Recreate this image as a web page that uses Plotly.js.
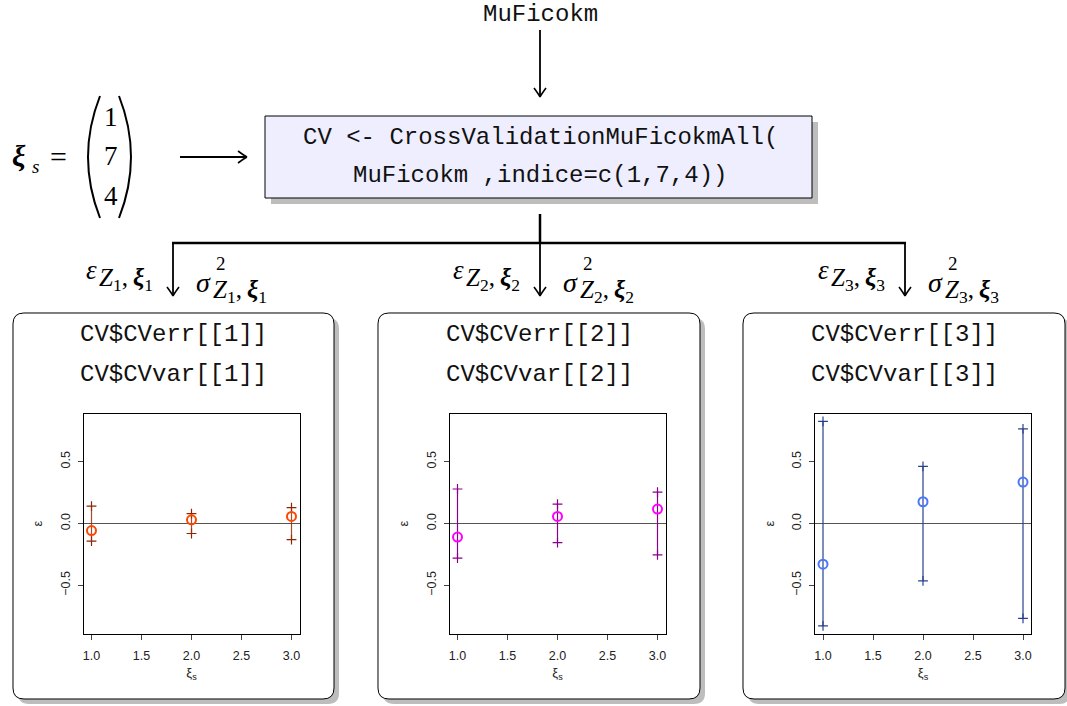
<!DOCTYPE html>
<html>
<head>
<meta charset="utf-8">
<script src="https://cdn.plot.ly/plotly-3.0.1.min.js"></script>
<style>html,body{margin:0;padding:0;background:#fff;}#chart{width:1067px;height:706px;}</style>
</head>
<body>
<div id="chart"></div>
<script>
// ---- data ----
const xiS = [1, 2, 3];                      // x positions (index of xi_s)
const indice = [1, 7, 4];                   // the selected indices
const boxTitlesErr = ["CV$CVerr[[1]]", "CV$CVerr[[2]]", "CV$CVerr[[3]]"];
const boxTitlesVar = ["CV$CVvar[[1]]", "CV$CVvar[[2]]", "CV$CVvar[[3]]"];
const err1 = [-0.057, 0.030, 0.057];
const lo1  = [-0.142, -0.081, -0.130];
const hi1  = [0.141, 0.080, 0.128];
const err2 = [-0.110, 0.057, 0.117];
const lo2  = [-0.280, -0.155, -0.254];
const hi2  = [0.279, 0.157, 0.254];
const err3 = [-0.329, 0.176, 0.335];
const lo3  = [-0.829, -0.464, -0.767];
const hi3  = [0.827, 0.462, 0.765];
const xTicks = [1, 1.5, 2, 2.5, 3];
const yTicks = [-0.5, 0, 0.5];

// ---- helpers (pixel -> paper) ----
const W = 1067, H = 706;
const X = p => p / W;
const Y = p => 1 - p / H;
const P = (x, y) => X(x).toFixed(5) + ',' + Y(y).toFixed(5);

const series = [
  {err: err1, lo: lo1, hi: hi1, pt: '#FF4500', bar: 'rgba(150,45,10,0.85)', cross: '#8B2500'},
  {err: err2, lo: lo2, hi: hi2, pt: '#FF00FF', bar: '#8B008B', cross: '#8B008B'},
  {err: err3, lo: lo3, hi: hi3, pt: '#4876FF', bar: '#27408B', cross: '#27408B'}
];
const frames = [[83.5, 299.5], [449.5, 665.5], [815, 1031]];
const frameY = [413.5, 633.5];

const data = [];
series.forEach((s, k) => {
  const xa = k === 0 ? 'x' : 'x' + (k + 1);
  const ya = k === 0 ? 'y' : 'y' + (k + 1);
  data.push({
    x: xiS.concat(xiS), y: s.lo.concat(s.hi), xaxis: xa, yaxis: ya,
    mode: 'markers', type: 'scatter', hoverinfo: 'skip', showlegend: false,
    marker: {symbol: 'cross-thin-open', size: 7, color: s.cross, line: {width: 1.2, color: s.cross}}
  });
  data.push({
    x: xiS, y: s.err, xaxis: xa, yaxis: ya, mode: 'markers', type: 'scatter', showlegend: false,
    marker: {symbol: 'circle-open', size: 9, color: s.pt, line: {width: 2, color: s.pt}},
    error_y: {type: 'data', symmetric: false,
      array: s.hi.map((h, i) => h - s.err[i]),
      arrayminus: s.err.map((e, i) => e - s.lo[i]),
      width: 0, thickness: 1.2, color: s.bar}
  });
});

const tickFont = {family: 'Liberation Sans, Arial, sans-serif', size: 12.5, color: '#222'};
const layout = {
  width: W, height: H, autosize: false,
  margin: {l: 0, r: 0, t: 0, b: 0},
  paper_bgcolor: '#ffffff', plot_bgcolor: 'rgba(0,0,0,0)',
  showlegend: false, shapes: [], annotations: []
};
frames.forEach((f, k) => {
  const sx = k === 0 ? '' : String(k + 1);
  layout['xaxis' + sx] = {
    domain: [X(f[0]), X(f[1])], anchor: 'y' + sx, range: [0.92, 3.08],
    tickvals: xTicks, tickformat: '.1f', ticks: 'outside', ticklen: 5, tickwidth: 1, tickcolor: '#444',
    ticklabelstandoff: 5,
    showline: true, mirror: true, linecolor: '#000', linewidth: 1, showgrid: false, zeroline: false,
    tickfont: tickFont, fixedrange: true,
    title: {text: 'ξ<sub>s</sub>', font: {family: 'Liberation Sans, Arial, sans-serif', size: 13, color: '#222'}, standoff: 6}
  };
  layout['yaxis' + sx] = {
    domain: [Y(frameY[1]), Y(frameY[0])], anchor: 'x' + sx, range: [-0.89, 0.89],
    tickvals: yTicks, tickformat: '.1f', tickangle: -90, ticks: 'outside', ticklen: 5, tickwidth: 1, tickcolor: '#444',
    ticklabelstandoff: 3,
    showline: true, mirror: true, linecolor: '#000', linewidth: 1, showgrid: false,
    zeroline: true, zerolinecolor: '#555', zerolinewidth: 1.7,
    tickfont: tickFont, fixedrange: true,
    title: {text: 'ε', font: {family: 'Liberation Sans, Arial, sans-serif', size: 13, color: '#222'}, standoff: 12}
  };
});

// ---- decoration shapes ----
function rrect(x0, y0, x1, y1, r) {
  return 'M' + P(x0 + r, y0) + ' L' + P(x1 - r, y0) + ' Q' + P(x1, y0) + ' ' + P(x1, y0 + r) +
    ' L' + P(x1, y1 - r) + ' Q' + P(x1, y1) + ' ' + P(x1 - r, y1) +
    ' L' + P(x0 + r, y1) + ' Q' + P(x0, y1) + ' ' + P(x0, y1 - r) +
    ' L' + P(x0, y0 + r) + ' Q' + P(x0, y0) + ' ' + P(x0 + r, y0) + ' Z';
}
const sh = layout.shapes;
const boxes = [[13, 313, 334, 699], [378, 313, 700, 699], [743, 313, 1065, 699]];
boxes.forEach(b => {
  sh.push({type: 'path', xref: 'paper', yref: 'paper', layer: 'below', path: rrect(b[0] + 5, b[1] + 5, b[2] + 5, b[3] + 5, 11), fillcolor: '#BDBDBD', line: {width: 0}});
});
boxes.forEach(b => {
  sh.push({type: 'path', xref: 'paper', yref: 'paper', layer: 'below', path: rrect(b[0], b[1], b[2], b[3], 11), fillcolor: '#ffffff', line: {width: 1, color: '#000'}});
});
// code box
const cb = [265, 116, 812, 198];
sh.push({type: 'rect', xref: 'paper', yref: 'paper', layer: 'below', x0: X(cb[0] + 6), x1: X(cb[2] + 6), y0: Y(cb[1] + 6), y1: Y(cb[3] + 6), fillcolor: '#BDBDBD', line: {width: 0}});
sh.push({type: 'rect', xref: 'paper', yref: 'paper', layer: 'below', x0: X(cb[0]), x1: X(cb[2]), y0: Y(cb[1]), y1: Y(cb[3]), fillcolor: '#EEEEFF', line: {width: 1, color: '#000'}});

function seg(x0, y0, x1, y1, w) {
  sh.push({type: 'line', xref: 'paper', yref: 'paper', x0: X(x0), y0: Y(y0), x1: X(x1), y1: Y(y1), line: {color: '#000', width: w}});
}
function headDown(x, y) {
  sh.push({type: 'path', xref: 'paper', yref: 'paper', line: {color: '#000', width: 1.6},
    path: 'M' + P(x - 6, y - 9) + ' Q' + P(x - 1.5, y - 3) + ' ' + P(x, y) + ' M' + P(x + 6, y - 9) + ' Q' + P(x + 1.5, y - 3) + ' ' + P(x, y)});
}
function headRight(x, y) {
  sh.push({type: 'path', xref: 'paper', yref: 'paper', line: {color: '#000', width: 1.6},
    path: 'M' + P(x - 9, y - 6) + ' Q' + P(x - 3, y - 1.5) + ' ' + P(x, y) + ' M' + P(x - 9, y + 6) + ' Q' + P(x - 3, y + 1.5) + ' ' + P(x, y)});
}
seg(540, 30, 540, 96, 1.8); headDown(540, 97);
seg(180, 157, 246, 157, 1.8); headRight(247, 157);
seg(540, 214, 540, 244, 2.5);
seg(172, 243, 906, 243, 2.5);
[173, 540, 905].forEach(ax => { seg(ax, 243, ax, 295, 1.8); headDown(ax, 296); });
// matrix parentheses
sh.push({type: 'path', xref: 'paper', yref: 'paper', line: {color: '#000', width: 2},
  path: 'M' + P(100, 96) + ' Q' + P(76, 157) + ' ' + P(100, 218)});
sh.push({type: 'path', xref: 'paper', yref: 'paper', line: {color: '#000', width: 2},
  path: 'M' + P(119, 96) + ' Q' + P(143, 157) + ' ' + P(119, 218)});

// ---- text ----
const an = layout.annotations;
const mono = {family: 'Liberation Mono, DejaVu Sans Mono, monospace', size: 24, color: '#111'};
const serif = 'Liberation Serif, DejaVu Serif, serif';
function txt(x, y, text, font, xanchor, extra) {
  an.push(Object.assign({xref: 'paper', yref: 'paper', x: X(x), y: Y(y), text: text, showarrow: false,
    xanchor: xanchor || 'center', yanchor: 'middle', font: font}, extra || {}));
}
txt(540, 14, 'MuFicokm', mono);
txt(540, 137, 'CV &lt;- CrossValidationMuFicokmAll(', mono);
txt(540, 176, 'MuFicokm ,indice=c(' + indice.join(',') + '))', mono);
boxes.forEach((b, k) => {
  const cx = (b[0] + b[2]) / 2;
  txt(cx, 334, boxTitlesErr[k], mono);
  txt(cx, 374, boxTitlesVar[k], mono);
});
// xi_s = (1 7 4)
txt(10, 155, '<b><i>ξ</i></b>', {family: serif, size: 30, color: '#000'}, 'left');
txt(30, 166, '<i>s</i>', {family: serif, size: 19, color: '#000'}, 'left');
txt(58, 156, '=', {family: serif, size: 30, color: '#000'});
indice.forEach((v, i) => txt(111, [117, 156, 196][i], String(v), {family: serif, size: 27, color: '#000'}));

// branch labels
[173, 540, 905].forEach((ax, k) => {
  const n = String(k + 1);
  const subTxt = '<i>Z</i><sub>' + n + '</sub>,\u2009<b><i>ξ</i></b><sub>' + n + '</sub>';
  txt(ax - 89, 270, '<i>ε</i>', {family: serif, size: 27, color: '#000'}, 'left');
  txt(ax - 76, 279, subTxt, {family: serif, size: 25, color: '#000'}, 'left');
  txt(ax + 21, 282, '<i>σ</i>', {family: serif, size: 28, color: '#000'}, 'left');
  txt(ax + 41, 264, '2', {family: serif, size: 19, color: '#000'}, 'left');
  txt(ax + 38, 291, subTxt, {family: serif, size: 25, color: '#000'}, 'left');
});

Plotly.newPlot('chart', data, layout, {staticPlot: true, displayModeBar: false});
</script>
</body>
</html>
